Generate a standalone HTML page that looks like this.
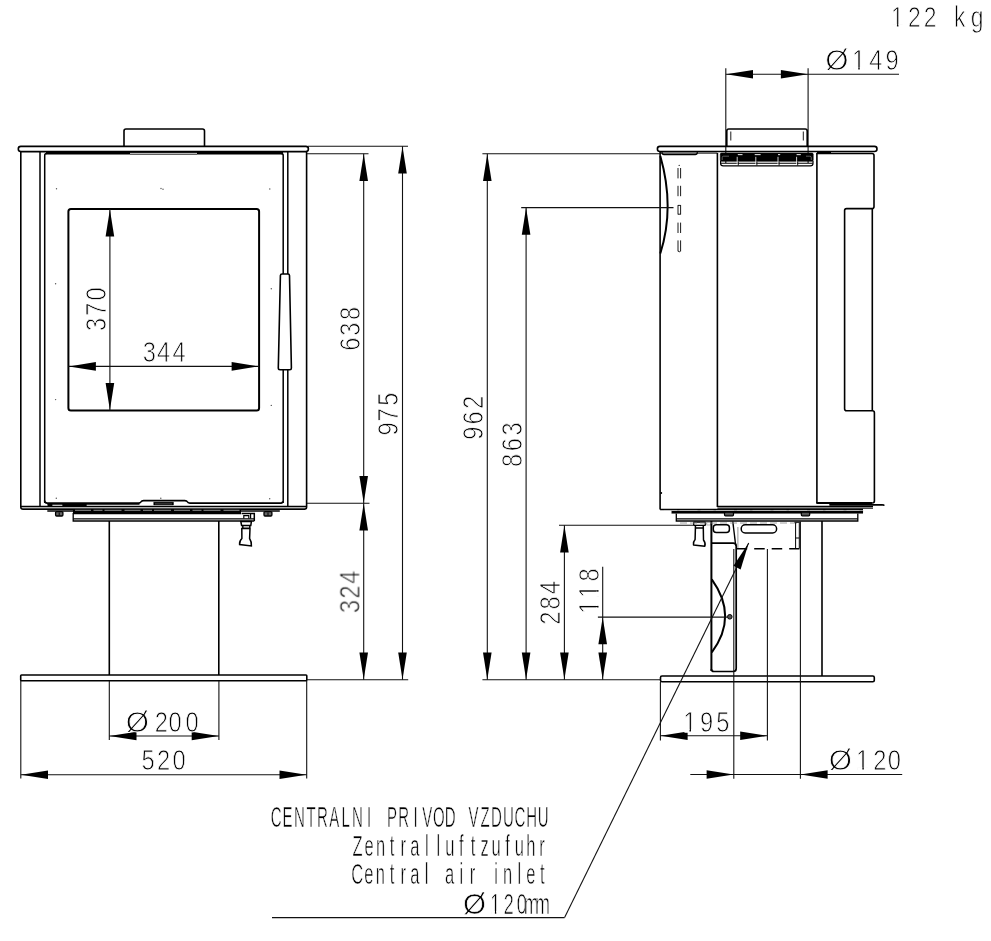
<!DOCTYPE html>
<html lang="en">
<head>
<meta charset="utf-8">
<title>Stove dimensional drawing</title>
<style>
html,body{margin:0;padding:0;background:#fff;}
body{width:991px;height:941px;overflow:hidden;font-family:"Liberation Sans",sans-serif;}
svg{display:block;font-family:"Liberation Sans",sans-serif;}
svg text{fill:#000;paint-order:fill stroke;}
</style>
</head>
<body>
<svg width="991" height="941" viewBox="0 0 991 941">
<rect x="0" y="0" width="991" height="941" fill="#fff"/>
<g id="front">
<path d="M124,146.5 V131 Q124,129 126,129 H202.5 Q204.5,129 204.5,131 V146.5" stroke="#000" stroke-width="1.6" fill="none" />
<rect x="18.3" y="146.4" width="290.1" height="5.2" rx="2.5" stroke="#000" stroke-width="1.6" fill="none"/>
<path d="M20.8,151.6 V507 Q20.8,509.1 22.9,509.1 H304.5 Q306.6,509.1 306.6,507 V151.6" stroke="#000" stroke-width="1.6" fill="none" />
<line x1="40" y1="152" x2="40" y2="506.3" stroke="#000" stroke-width="1.5" />
<path d="M44.7,503 V155.5 Q44.7,153.5 46.7,153.5" stroke="#000" stroke-width="1.5" fill="none" />
<line x1="287.8" y1="152" x2="287.8" y2="506.3" stroke="#000" stroke-width="1.5" />
<path d="M283.2,503 V155.5 Q283.2,153.5 281.2,153.5" stroke="#000" stroke-width="1.5" fill="none" />
<line x1="46" y1="153.2" x2="130" y2="153.2" stroke="#000" stroke-width="2.6" />
<line x1="197" y1="153.2" x2="283" y2="153.2" stroke="#000" stroke-width="2.6" />
<line x1="130" y1="152.4" x2="197" y2="152.4" stroke="#000" stroke-width="0.9" />
<line x1="130" y1="154.2" x2="197" y2="154.2" stroke="#000" stroke-width="0.9" />
<rect x="68.4" y="209.1" width="190.7" height="201.4" rx="2.5" stroke="#000" stroke-width="2.0" fill="none"/>
<path d="M282,274 H288 Q289.4,274 289.5,275.5 L291.4,368 Q291.4,369.7 289.8,369.7 H280 Q278.3,369.7 278.3,368 L280.4,275.5 Q280.5,274 282,274 Z" stroke="#000" stroke-width="1.6" fill="#fff" />
<circle cx="55.6" cy="283.8" r="0.7" fill="#555"/>
<circle cx="55.6" cy="399.6" r="0.7" fill="#555"/>
<circle cx="271.3" cy="288.7" r="0.7" fill="#555"/>
<circle cx="271.3" cy="405.4" r="0.7" fill="#555"/>
<circle cx="56.5" cy="188.8" r="0.7" fill="#555"/>
<circle cx="161" cy="188.5" r="0.7" fill="#555"/>
<circle cx="163" cy="189.3" r="0.7" fill="#555"/>
<circle cx="269.8" cy="189" r="0.7" fill="#555"/>
<circle cx="56.3" cy="498.2" r="0.7" fill="#555"/>
<circle cx="160.8" cy="498.2" r="0.7" fill="#555"/>
<circle cx="269.7" cy="498.7" r="0.7" fill="#555"/>
<path d="M44.6,500.5 Q44.6,503.1 47.2,503.1 H138.6 Q140.6,503.1 141.1,501.8 Q141.6,500.6 143.6,500.6 H184.8 Q186.8,500.6 187.3,501.8 Q187.8,503.1 189.8,503.1 H281 Q282.7,503.1 282.7,501.2" stroke="#000" stroke-width="1.6" fill="none" />
<line x1="47.5" y1="503.9" x2="139.5" y2="503.9" stroke="#000" stroke-width="1.7" />
<rect x="47.6" y="503.2" width="4.7" height="3.0" rx="0" stroke="#000" stroke-width="0.1" fill="#000"/>
<rect x="62.4" y="503.2" width="24.2" height="3.0" rx="0" stroke="#000" stroke-width="0.1" fill="#000"/>
<rect x="153.8" y="502.1" width="19.7" height="2.9" rx="0" stroke="#000" stroke-width="0.4" fill="#000"/>
<line x1="155" y1="503.9" x2="172" y2="503.9" stroke="#999" stroke-width="0.5" />
<line x1="20.8" y1="506.4" x2="306.6" y2="506.4" stroke="#000" stroke-width="1.5" />
<line x1="22" y1="507.8" x2="305.5" y2="507.8" stroke="#999" stroke-width="0.5" />
<line x1="47.3" y1="511.0" x2="279.8" y2="511.0" stroke="#000" stroke-width="1.3" />
<rect x="73" y="510.0" width="168" height="3.6" rx="0" stroke="#000" stroke-width="0.1" fill="#000"/>
<line x1="75" y1="510.3" x2="240" y2="510.3" stroke="#ccc" stroke-width="0.7" stroke-dasharray="16 2.5 9 2 17 3"/>
<rect x="55.6" y="511.6" width="7.3" height="4.4" rx="1" stroke="#000" stroke-width="1.3" fill="#666"/>
<line x1="59.2" y1="512.5" x2="59.2" y2="515.6" stroke="#000" stroke-width="1.0" />
<rect x="264" y="511.6" width="7.9" height="4.4" rx="1" stroke="#000" stroke-width="1.3" fill="#666"/>
<line x1="268" y1="512.5" x2="268" y2="515.6" stroke="#000" stroke-width="1.0" />
<path d="M241,513.6 H73.2 V521 H254.3" stroke="#000" stroke-width="1.3" fill="none" />
<line x1="73.2" y1="518.8" x2="254.3" y2="518.8" stroke="#000" stroke-width="1.3" />
<path d="M241.6,513.4 H254.3 V521" stroke="#000" stroke-width="1.5" fill="none" />
<path d="M243.8,518.6 V515.6 H248.8 V518.6 M250.6,513.6 V518.6" stroke="#000" stroke-width="1.2" fill="none" />
<path d="M240.8,521.5 H251.4 L250.8,525.5 H241.6 Z M242.8,525.8 V528.2 H249.8 V525.8 M241.8,528.4 H250 L249.6,538.5 Q251.6,541.5 251.4,546 L239.6,544.6 Q239.2,541 241.9,538.5 Z" stroke="#000" stroke-width="1.5" fill="none" />
<line x1="109.3" y1="521" x2="109.3" y2="675" stroke="#000" stroke-width="1.6" />
<line x1="218.8" y1="521" x2="218.8" y2="675" stroke="#000" stroke-width="1.6" />
<rect x="20.7" y="675" width="286.1" height="5.7" rx="0.8" stroke="#000" stroke-width="1.6" fill="none"/>
</g>
<g id="frontdims">
<line x1="109.9" y1="209.1" x2="109.9" y2="410.5" stroke="#111" stroke-width="1.1" />
<polygon points="109.9,209.6 105.60000000000001,236.6 114.2,236.6" fill="#000"/>
<polygon points="109.9,410 105.60000000000001,383 114.2,383" fill="#000"/>
<line x1="68.4" y1="366.4" x2="259.1" y2="366.4" stroke="#111" stroke-width="1.1" />
<polygon points="68.9,366.4 95.9,362.09999999999997 95.9,370.7" fill="#000"/>
<polygon points="258.6,366.4 231.60000000000002,362.09999999999997 231.60000000000002,370.7" fill="#000"/>
<line x1="308" y1="146.3" x2="408" y2="146.3" stroke="#111" stroke-width="1.1" />
<line x1="307" y1="153.7" x2="368.5" y2="153.7" stroke="#111" stroke-width="1.1" />
<line x1="307" y1="503.2" x2="369.5" y2="503.2" stroke="#111" stroke-width="1.1" />
<line x1="307" y1="679.8" x2="408.2" y2="679.8" stroke="#111" stroke-width="1.1" />
<line x1="363.7" y1="153.7" x2="363.7" y2="679.8" stroke="#111" stroke-width="1.1" />
<polygon points="363.7,153.9 359.4,180.9 368.0,180.9" fill="#000"/>
<polygon points="363.7,503 359.4,476 368.0,476" fill="#000"/>
<polygon points="363.7,503.4 359.4,530.4 368.0,530.4" fill="#000"/>
<polygon points="363.7,679.6 359.4,652.6 368.0,652.6" fill="#000"/>
<line x1="402.5" y1="146.3" x2="402.5" y2="679.8" stroke="#111" stroke-width="1.1" />
<polygon points="402.5,146.5 398.2,173.5 406.8,173.5" fill="#000"/>
<polygon points="402.5,679.6 398.2,652.6 406.8,652.6" fill="#000"/>
<line x1="109.3" y1="681" x2="109.3" y2="740" stroke="#111" stroke-width="1.1" />
<line x1="218.9" y1="681" x2="218.9" y2="740" stroke="#111" stroke-width="1.1" />
<line x1="109.3" y1="736.0" x2="218.9" y2="736.0" stroke="#111" stroke-width="1.1" />
<polygon points="109.5,736.0 136.5,731.7 136.5,740.3" fill="#000"/>
<polygon points="218.7,736.0 191.7,731.7 191.7,740.3" fill="#000"/>
<line x1="20.8" y1="681" x2="20.8" y2="778.5" stroke="#111" stroke-width="1.1" />
<line x1="306.7" y1="681" x2="306.7" y2="778.5" stroke="#111" stroke-width="1.1" />
<line x1="20.8" y1="774.8" x2="306.7" y2="774.8" stroke="#111" stroke-width="1.1" />
<polygon points="21,774.8 48,770.5 48,779.0999999999999" fill="#000"/>
<polygon points="306.5,774.8 279.5,770.5 279.5,779.0999999999999" fill="#000"/>
</g>
<g id="side">
<line x1="725.8" y1="68.3" x2="725.8" y2="163" stroke="#111" stroke-width="1.1" />
<line x1="808.1" y1="68.3" x2="808.1" y2="163" stroke="#111" stroke-width="1.1" />
<path d="M726.8,146.5 V131 Q726.8,129 728.8,129 H805.2 Q807.2,129 807.2,131 V146.5" stroke="#000" stroke-width="1.6" fill="none" />
<line x1="730.8" y1="131.5" x2="730.8" y2="140.5" stroke="#000" stroke-width="0.9" />
<line x1="803.3" y1="131.5" x2="803.3" y2="140.5" stroke="#000" stroke-width="0.9" />
<rect x="657.4" y="146.4" width="219.6" height="5.1" rx="2.5" stroke="#000" stroke-width="1.6" fill="none"/>
<path d="M662,151.5 V152.6 Q662,154.6 664,154.6 H695.3 Q697.3,154.6 697.3,152.6 V151.5" stroke="#000" stroke-width="1.2" fill="none" />
<line x1="660.1" y1="151.5" x2="660.1" y2="509.4" stroke="#000" stroke-width="1.6" />
<line x1="660.1" y1="153.1" x2="717.4" y2="153.1" stroke="#000" stroke-width="1.0" />
<path d="M660.3,156 Q675,207.4 660.3,253.5" stroke="#000" stroke-width="2.0" fill="none" />
<line x1="678" y1="168" x2="678" y2="178.4" stroke="#000" stroke-width="0.9" />
<line x1="680.6" y1="168" x2="680.6" y2="178.4" stroke="#000" stroke-width="0.9" />
<line x1="678" y1="185.8" x2="678" y2="196.2" stroke="#000" stroke-width="0.9" />
<line x1="680.6" y1="185.8" x2="680.6" y2="196.2" stroke="#000" stroke-width="0.9" />
<line x1="678" y1="205.1" x2="678" y2="214.5" stroke="#000" stroke-width="0.9" />
<line x1="680.6" y1="205.1" x2="680.6" y2="214.5" stroke="#000" stroke-width="0.9" />
<line x1="678" y1="222.6" x2="678" y2="233" stroke="#000" stroke-width="0.9" />
<line x1="680.6" y1="222.6" x2="680.6" y2="233" stroke="#000" stroke-width="0.9" />
<line x1="678" y1="240.4" x2="678" y2="251.3" stroke="#000" stroke-width="0.9" />
<line x1="680.6" y1="240.4" x2="680.6" y2="251.3" stroke="#000" stroke-width="0.9" />
<line x1="678" y1="205.4" x2="680.6" y2="205.4" stroke="#000" stroke-width="0.9" />
<line x1="678" y1="214.2" x2="680.6" y2="214.2" stroke="#000" stroke-width="0.9" />
<path d="M678,251 Q679.3,252.6 680.6,251" stroke="#000" stroke-width="0.9" fill="none" />
<circle cx="679.2" cy="165.4" r="0.7" fill="#333"/>
<line x1="717.4" y1="153" x2="717.4" y2="507" stroke="#000" stroke-width="1.6" />
<line x1="816.9" y1="153" x2="816.9" y2="503" stroke="#000" stroke-width="1.6" />
<rect x="720.3" y="153.0" width="92.9" height="8.3" rx="1.2" stroke="#000" stroke-width="0.6" fill="#000"/>
<line x1="737.8" y1="154.6" x2="742.5" y2="154.6" stroke="#ddd" stroke-width="1.1" />
<line x1="754.7" y1="154.6" x2="760.6" y2="154.6" stroke="#ddd" stroke-width="1.1" />
<line x1="778" y1="154.6" x2="780.2" y2="154.6" stroke="#ddd" stroke-width="1.1" />
<line x1="796.6" y1="154.6" x2="800.8" y2="154.6" stroke="#ddd" stroke-width="1.1" />
<path d="M722.2,160 V157.6 Q722.2,156.2 723.6,156.2 H729" stroke="#999" stroke-width="0.6" fill="none" />
<path d="M811.3,160 V157.6 Q811.3,156.2 809.9,156.2 H806" stroke="#999" stroke-width="0.6" fill="none" />
<line x1="720.8" y1="163.2" x2="812.8" y2="163.2" stroke="#000" stroke-width="1.1" />
<path d="M720.6,161 V163.4 Q720.6,165.8 723.2,165.8 H810.4 Q813,165.8 813,163.4 V161" stroke="#000" stroke-width="1.2" fill="none" />
<line x1="737.2" y1="156.8" x2="737.2" y2="164.9" stroke="#fff" stroke-width="0.8" />
<line x1="738.3000000000001" y1="161.5" x2="738.3000000000001" y2="165.5" stroke="#000" stroke-width="0.9" />
<line x1="755.8" y1="156.8" x2="755.8" y2="164.9" stroke="#fff" stroke-width="0.8" />
<line x1="756.9" y1="161.5" x2="756.9" y2="165.5" stroke="#000" stroke-width="0.9" />
<line x1="778" y1="156.8" x2="778" y2="164.9" stroke="#fff" stroke-width="0.8" />
<line x1="779.1" y1="161.5" x2="779.1" y2="165.5" stroke="#000" stroke-width="0.9" />
<line x1="796.6" y1="156.8" x2="796.6" y2="164.9" stroke="#fff" stroke-width="0.8" />
<line x1="797.7" y1="161.5" x2="797.7" y2="165.5" stroke="#000" stroke-width="0.9" />
<line x1="816.9" y1="152.2" x2="831" y2="152.2" stroke="#000" stroke-width="2.2" />
<path d="M816.9,153.5 H872 Q874,153.5 874,155.5 V206.6 Q874,208.6 872.3,208.6 H846.6 Q844.6,208.6 844.6,210.6 V408.8 Q844.6,410.8 846.6,410.8 H872.3 Q874.4,410.8 874.4,412.8 V501 Q874.4,502.8 872.6,502.8" stroke="#000" stroke-width="1.6" fill="none" />
<line x1="872.3" y1="208.6" x2="872.3" y2="410.8" stroke="#000" stroke-width="1.6" />
<line x1="660.1" y1="509.5" x2="863" y2="509.5" stroke="#000" stroke-width="1.3" />
<line x1="717.4" y1="506.5" x2="873" y2="506.5" stroke="#000" stroke-width="1.4" />
<line x1="717.4" y1="508.2" x2="873" y2="508.2" stroke="#000" stroke-width="1.0" />
<path d="M817,503 H872 M830,504.8 H882 Q883.8,504.8 883.8,505" stroke="#000" stroke-width="1.8" fill="none" stroke-linecap="round"/>
<rect x="671.6" y="510.9" width="191.4" height="2.6" rx="0" stroke="#000" stroke-width="0.1" fill="#000"/>
<line x1="664" y1="510.45" x2="862" y2="510.45" stroke="#ccc" stroke-width="0.6" stroke-dasharray="13 2.5 18 3"/>
<rect x="724.5" y="512.2" width="9.0" height="3.6" rx="1" stroke="#000" stroke-width="1.2" fill="#555"/>
<rect x="801.3" y="512.2" width="8.4" height="3.6" rx="1" stroke="#000" stroke-width="1.2" fill="#555"/>
<circle cx="661.3" cy="493" r="0.9" fill="#000"/>
<path d="M676.3,513.4 V521 H857.8 V513.4" stroke="#000" stroke-width="1.3" fill="none" />
<line x1="676.3" y1="518.8" x2="857.8" y2="518.8" stroke="#000" stroke-width="1.3" />
<rect x="693.7" y="522.1" width="11.6" height="3.2" rx="0.3" stroke="#000" stroke-width="1.3" fill="#f4f4f4"/>
<path d="M695.4,525.4 V528.1 H703.3 V525.4 M695.4,528.1 L695.1,539.5 Q692.9,542 693.5,544.9 L704.8,546.2 Q705.9,543.2 703.5,540 L703.3,528.1" stroke="#000" stroke-width="1.5" fill="none" stroke-linejoin="round"/>
<rect x="706.8" y="522.4" width="3.8" height="2.6" rx="0" stroke="#999" stroke-width="0.7" fill="none"/>
<line x1="711.4" y1="521" x2="711.4" y2="671" stroke="#000" stroke-width="2.0" />
<line x1="822" y1="521" x2="822" y2="676" stroke="#000" stroke-width="1.6" />
<rect x="713.3" y="524.8" width="16.1" height="7.8" rx="3" stroke="#000" stroke-width="1.5" fill="none"/>
<rect x="741.2" y="524.8" width="35.4" height="8.2" rx="4" stroke="#000" stroke-width="1.5" fill="none"/>
<line x1="732.8" y1="521.5" x2="735.7" y2="545.5" stroke="#000" stroke-width="1.4" />
<line x1="737.9" y1="527" x2="737.9" y2="549" stroke="#777" stroke-width="0.8" />
<line x1="680" y1="523" x2="800" y2="523" stroke="#888" stroke-width="0.8" stroke-dasharray="7 3"/>
<path d="M794.5,522.3 H800.5 M795.6,523 V548.4 M799.3,523 V548.4 M795.6,538 H799.3" stroke="#000" stroke-width="1.0" fill="none" />
<line x1="736.7" y1="548.8" x2="799.5" y2="548.8" stroke="#000" stroke-width="1.6" stroke-dasharray="10.5 7"/>
<path d="M711.4,543.2 H733.2 Q736.2,543.2 736.2,546.2 V668.5 Q736.2,671.5 733.2,671.5 H714 Q711.4,671.5 711.4,669" stroke="#000" stroke-width="1.7" fill="none" />
<path d="M711.8,579.4 Q738.5,616.6 711.8,652.3" stroke="#000" stroke-width="2.0" fill="none" />
<circle cx="729.8" cy="616.8" r="2.3" fill="#555" stroke="#000" stroke-width="1"/>
<rect x="660.5" y="676" width="213.8" height="5.7" rx="1.5" stroke="#000" stroke-width="1.6" fill="none"/>
</g>
<g id="sidedims">
<line x1="725.8" y1="74.3" x2="899" y2="74.3" stroke="#111" stroke-width="1.1" />
<polygon points="726,74.3 753,70.0 753,78.6" fill="#000"/>
<polygon points="807.9,74.3 780.9,70.0 780.9,78.6" fill="#000"/>
<line x1="482.4" y1="153.7" x2="660" y2="153.7" stroke="#111" stroke-width="1.1" />
<line x1="521.2" y1="207.6" x2="673.5" y2="207.6" stroke="#111" stroke-width="1.1" />
<line x1="482.4" y1="679.8" x2="660.5" y2="679.8" stroke="#111" stroke-width="1.1" />
<line x1="487.3" y1="153.7" x2="487.3" y2="679.8" stroke="#111" stroke-width="1.1" />
<polygon points="487.3,153.9 483.0,180.9 491.6,180.9" fill="#000"/>
<polygon points="487.3,679.6 483.0,652.6 491.6,652.6" fill="#000"/>
<line x1="526.1" y1="207.6" x2="526.1" y2="679.8" stroke="#111" stroke-width="1.1" />
<polygon points="526.1,207.8 521.8000000000001,234.8 530.4,234.8" fill="#000"/>
<polygon points="526.1,679.6 521.8000000000001,652.6 530.4,652.6" fill="#000"/>
<line x1="559" y1="525.3" x2="693.5" y2="525.3" stroke="#111" stroke-width="1.1" />
<line x1="564.4" y1="525.3" x2="564.4" y2="679.8" stroke="#111" stroke-width="1.1" />
<polygon points="564.4,525.5 560.1,552.5 568.6999999999999,552.5" fill="#000"/>
<polygon points="564.4,679.6 560.1,652.6 568.6999999999999,652.6" fill="#000"/>
<line x1="597.9" y1="617.1" x2="727.5" y2="617.1" stroke="#111" stroke-width="1.1" />
<line x1="602.7" y1="566.8" x2="602.7" y2="679.8" stroke="#111" stroke-width="1.1" />
<polygon points="602.7,617.3 598.4000000000001,644.3 607.0,644.3" fill="#000"/>
<polygon points="602.7,679.6 598.4000000000001,652.6 607.0,652.6" fill="#000"/>
<line x1="660.4" y1="682" x2="660.4" y2="740.6" stroke="#111" stroke-width="1.1" />
<line x1="733.8" y1="549" x2="733.8" y2="778.8" stroke="#111" stroke-width="1.1" />
<line x1="767.4" y1="549" x2="767.4" y2="740.6" stroke="#111" stroke-width="1.1" />
<line x1="800.4" y1="521.5" x2="800.4" y2="778.8" stroke="#111" stroke-width="1.1" />
<line x1="660.4" y1="735.8" x2="767.4" y2="735.8" stroke="#111" stroke-width="1.1" />
<polygon points="660.6,735.8 687.6,731.5 687.6,740.0999999999999" fill="#000"/>
<polygon points="767.2,735.8 740.2,731.5 740.2,740.0999999999999" fill="#000"/>
<line x1="690.3" y1="774.5" x2="902.2" y2="774.5" stroke="#111" stroke-width="1.1" />
<polygon points="733.6,774.5 706.6,770.2 706.6,778.8" fill="#000"/>
<polygon points="800.6,774.5 827.6,770.2 827.6,778.8" fill="#000"/>
<path d="M564.6,917.6 H272" stroke="#111" stroke-width="1.1" fill="none" />
<path d="M564.6,917.6 L748.7,543.1" stroke="#111" stroke-width="1.1" fill="none" />
<polygon points="748.8,542.8 733.5,565.8 740.6,569.6" fill="#000"/>
</g>
<g id="labels" fill="#000" style="opacity:0.999">
<text transform="translate(897.6,26.9) scale(0.79,1)" x="-8.46 13.33 33.2 56.41 71.37 92.64" font-size="29" stroke="#fff" stroke-width="0.9">122 kg</text>
<rect transform="translate(897.6,26.9) scale(0.79,1)" x="-7.05" y="-2.57" width="6.18" height="3.47" fill="#fff"/>
<rect transform="translate(897.6,26.9) scale(0.79,1)" x="1.10" y="-2.57" width="6.11" height="3.47" fill="#fff"/>
<text transform="translate(836.8,69.6) scale(0.79,1)" x="-14.73 19.22 41.12 61.54" font-size="30" stroke="#fff" stroke-width="0.9"><tspan textLength="29.42" lengthAdjust="spacingAndGlyphs">Ø</tspan>149</text>
<rect transform="translate(836.8,69.6) scale(0.79,1)" x="20.71" y="-2.64" width="6.36" height="3.54" fill="#fff"/>
<rect transform="translate(836.8,69.6) scale(0.79,1)" x="29.12" y="-2.64" width="6.27" height="3.54" fill="#fff"/>
<text transform="translate(149.2,362.0) scale(0.79,1)" x="-8.25 9.73 29.6" font-size="30" stroke="#fff" stroke-width="0.9">344</text>
<text transform="translate(137.5,731.9) scale(0.79,1)" x="-14.73 21.78 39.38 60.65" font-size="30" stroke="#fff" stroke-width="0.9"><tspan textLength="29.42" lengthAdjust="spacingAndGlyphs">Ø</tspan>200</text>
<text transform="translate(148.1,770.0) scale(0.79,1)" x="-8.31 11.15 30.9" font-size="30" stroke="#fff" stroke-width="0.9">520</text>
<text transform="translate(690.1,731.6) scale(0.79,1)" x="-8.75 12.42 33.21" font-size="30" stroke="#fff" stroke-width="0.9">195</text>
<rect transform="translate(690.1,731.6) scale(0.79,1)" x="-7.26" y="-2.64" width="6.36" height="3.54" fill="#fff"/>
<rect transform="translate(690.1,731.6) scale(0.79,1)" x="1.15" y="-2.64" width="6.27" height="3.54" fill="#fff"/>
<text transform="translate(840.5,769.9) scale(0.79,1)" x="-14.73 19.73 41.4 59.89" font-size="30" stroke="#fff" stroke-width="0.9"><tspan textLength="29.42" lengthAdjust="spacingAndGlyphs">Ø</tspan>120</text>
<rect transform="translate(840.5,769.9) scale(0.79,1)" x="21.22" y="-2.64" width="6.36" height="3.54" fill="#fff"/>
<rect transform="translate(840.5,769.9) scale(0.79,1)" x="29.63" y="-2.64" width="6.27" height="3.54" fill="#fff"/>
<text transform="translate(105.7,324.6) rotate(-90) scale(0.79,1)" x="-8.25 11.01 30.39" font-size="30" stroke="#fff" stroke-width="0.9">370</text>
<text transform="translate(359.7,344.0) rotate(-90) scale(0.79,1)" x="-8.44 10.35 30.52" font-size="30" stroke="#fff" stroke-width="0.9">638</text>
<text transform="translate(398.4,428.9) rotate(-90) scale(0.79,1)" x="-8.33 9.36 29.28" font-size="30" stroke="#fff" stroke-width="0.9">975</text>
<text transform="translate(359.7,606.7) rotate(-90) scale(0.79,1)" x="-8.25 10.14 29.09" font-size="30" stroke="#fff" stroke-width="0.9">324</text>
<text transform="translate(483.3,433.2) rotate(-90) scale(0.79,1)" x="-8.33 11.11 30.77" font-size="30" stroke="#fff" stroke-width="0.9">962</text>
<text transform="translate(522.0,460.3) rotate(-90) scale(0.79,1)" x="-8.34 11.43 31.49" font-size="30" stroke="#fff" stroke-width="0.9">863</text>
<text transform="translate(560.4,618.1) rotate(-90) scale(0.79,1)" x="-8.34 10.9 30.23" font-size="30" stroke="#fff" stroke-width="0.9">284</text>
<text transform="translate(598.6,606.8) rotate(-90) scale(0.79,1)" x="-8.75 11.25 32.04" font-size="30" stroke="#fff" stroke-width="0.9">118</text>
<rect transform="translate(598.6,606.8) rotate(-90) scale(0.79,1)" x="-7.26" y="-2.64" width="6.36" height="3.54" fill="#fff"/>
<rect transform="translate(598.6,606.8) rotate(-90) scale(0.79,1)" x="1.15" y="-2.64" width="6.27" height="3.54" fill="#fff"/>
<rect transform="translate(598.6,606.8) rotate(-90) scale(0.79,1)" x="12.74" y="-2.64" width="6.36" height="3.54" fill="#fff"/>
<rect transform="translate(598.6,606.8) rotate(-90) scale(0.79,1)" x="21.15" y="-2.64" width="6.27" height="3.54" fill="#fff"/>
<text transform="translate(276.3,827.0) scale(0.5,1)" x="-11.02 12.62 35.58 60.47 81.47 106.04 130.18 151.62 181.5 204.71 221.64 243.93 274.34 291.71 313.26 336.79 367.17 384.54 408.59 429.62 453.34 476.36 499.75 522.97" font-size="30" stroke="#fff" stroke-width="0.65">CENTRALNI PRIVOD VZDUCHU</text>
<text transform="translate(357.5,855.6) scale(0.55,1)" x="-9.17 12.7 33.66 58.75 78.3 96.08 122.73 143.74 159.77 184.7 205.83 223.76 243.82 268.75 285.84 306.76 330.44" font-size="30" stroke="#fff" stroke-width="0.65">Zentralluftzufuhr</text>
<text transform="translate(357.3,884.4) scale(0.55,1)" x="-11.02 12.72 33.7 58.82 78.39 96.19 122.86 143.07 159.29 185.98 204.6 227.21 249.08 265.08 291.14 307.2 332.26" font-size="30" stroke="#fff" stroke-width="0.65">Central air inlet</text>
<text transform="translate(474.4,913.6) scale(0.62,1)" x="-18.6 25.57 47.42 68.23 79.69 97.75" font-size="29" stroke="#fff" stroke-width="0.7"><tspan textLength="37.16" lengthAdjust="spacingAndGlyphs">Ø</tspan>120mm</text>
<rect transform="translate(474.4,913.6) scale(0.62,1)" x="26.98" y="-2.57" width="6.08" height="3.47" fill="#fff"/>
<rect transform="translate(474.4,913.6) scale(0.62,1)" x="35.23" y="-2.57" width="6.01" height="3.47" fill="#fff"/>
</g>
</svg>
</body>
</html>
